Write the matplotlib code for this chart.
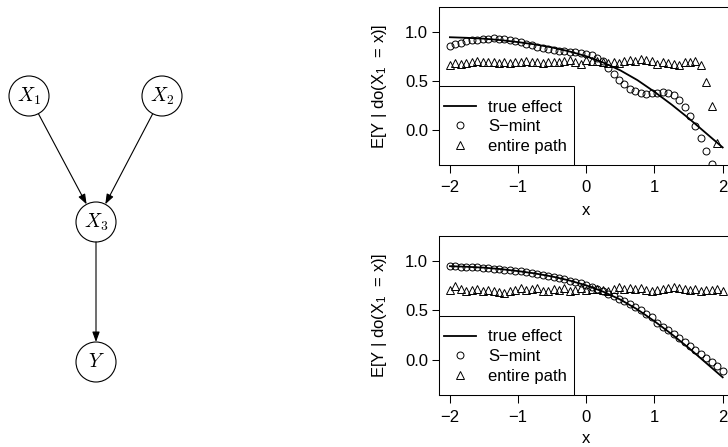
import numpy as np
import matplotlib
matplotlib.use("Agg")
import matplotlib.pyplot as plt
from matplotlib.lines import Line2D
from matplotlib.patches import Circle, FancyArrowPatch, Rectangle

plt.rcParams['font.family'] = ['Liberation Sans', 'DejaVu Sans']
plt.rcParams['mathtext.fontset'] = 'custom'
plt.rcParams['mathtext.rm'] = 'Liberation Sans'
plt.rcParams['mathtext.it'] = 'Liberation Sans'

# ---------------- data ----------------
x_grid = np.linspace(-2, 2, 51)

true_x = [-2.0, -1.75, -1.5, -1.25, -1.0, -0.75, -0.5, -0.25, 0.0,
          0.25, 0.5, 0.75, 1.0, 1.25, 1.5, 1.75, 2.0]
true_effect = [0.950, 0.944, 0.935, 0.920, 0.900, 0.876, 0.845, 0.805, 0.755,
               0.690, 0.610, 0.510, 0.390, 0.260, 0.120, -0.030, -0.180]

# top panel (visible points only)
smint_top = [0.864, 0.881, 0.895, 0.908, 0.918, 0.925, 0.932, 0.935, 0.939, 0.935,
             0.929, 0.922, 0.908, 0.898, 0.884, 0.871, 0.854, 0.840, 0.827, 0.817,
             0.810, 0.806, 0.800, 0.796, 0.790, 0.783, 0.763, 0.739, 0.705, 0.630,
             0.577, 0.516, 0.468, 0.424, 0.397, 0.380, 0.373, 0.380, 0.383, 0.390,
             0.380, 0.356, 0.305, 0.230, 0.146, 0.044, -0.085, -0.214, -0.350]
path_top = [0.67, 0.69, 0.68, 0.69, 0.70, 0.71, 0.70, 0.70, 0.70, 0.69,
            0.70, 0.69, 0.70, 0.70, 0.71, 0.70, 0.70, 0.69, 0.70, 0.70,
            0.70, 0.71, 0.72, 0.70, 0.68, 0.72, 0.71, 0.71, 0.70, 0.69,
            0.70, 0.69, 0.71, 0.72, 0.71, 0.73, 0.72, 0.71, 0.68, 0.70,
            0.69, 0.68, 0.67, 0.70, 0.70, 0.71, 0.67, 0.49, 0.24, -0.13]

# bottom panel
smint_bot = [0.950, 0.948, 0.946, 0.943, 0.940, 0.937, 0.933, 0.929, 0.925, 0.920,
             0.915, 0.909, 0.903, 0.897, 0.890, 0.882, 0.873, 0.864, 0.854, 0.843,
             0.831, 0.818, 0.804, 0.789, 0.774, 0.760, 0.740, 0.718, 0.695, 0.672,
             0.647, 0.620, 0.592, 0.563, 0.532, 0.500, 0.466, 0.431, 0.375, 0.335,
             0.300, 0.260, 0.220, 0.180, 0.140, 0.100, 0.060, 0.020, -0.020, -0.070,
             -0.120]
path_bot = [0.71, 0.75, 0.72, 0.70, 0.71, 0.72, 0.70, 0.71, 0.70, 0.69,
            0.68, 0.70, 0.71, 0.73, 0.71, 0.72, 0.73, 0.70, 0.70, 0.72,
            0.71, 0.73, 0.70, 0.71, 0.73, 0.71, 0.72, 0.72, 0.71, 0.70,
            0.72, 0.74, 0.72, 0.73, 0.72, 0.73, 0.71, 0.70, 0.71, 0.72,
            0.73, 0.74, 0.73, 0.72, 0.71, 0.72, 0.70, 0.71, 0.71, 0.72,
            0.70]

x_ticks = [-2, -1, 0, 1, 2]
y_ticks = [0.0, 0.5, 1.0]
legend_labels = ["true effect", "S\u2212mint", "entire path"]
ylabel = r"E[Y | do(X$_{\mathrm{1}}$  = x)]"

# DAG nodes (pixel layout)
nodes = {"X1": (29, 96), "X2": (162, 96), "X3": (96, 222), "Y": (96, 362)}
node_labels = {"X1": r"$X_1$", "X2": r"$X_2$", "X3": r"$X_3$", "Y": r"$Y$"}
edges = [("X1", "X3"), ("X2", "X3"), ("X3", "Y")]

# ---------------- figure ----------------
W, H = 728, 447
fig = plt.figure(figsize=(W / 100, H / 100), dpi=100)

# DAG drawn in pixel coords
axd = fig.add_axes([0, 0, 1, 1])
axd.set_xlim(0, W)
axd.set_ylim(H, 0)
axd.axis('off')
R = 20
for k, (cx, cy) in nodes.items():
    axd.add_patch(Circle((cx, cy), R, fill=False, ec='black', lw=0.8))
    axd.text(cx, cy, node_labels[k], ha='center', va='center', fontsize=14,
             math_fontfamily='cm')
for a, b in edges:
    (x0, y0), (x1, y1) = nodes[a], nodes[b]
    d = np.hypot(x1 - x0, y1 - y0)
    ux, uy = (x1 - x0) / d, (y1 - y0) / d
    arr = FancyArrowPatch((x0 + ux * R, y0 + uy * R), (x1 - ux * R, y1 - uy * R),
                          arrowstyle='-|>,head_length=0.6,head_width=0.22',
                          mutation_scale=10, color='black', lw=0.8,
                          shrinkA=0, shrinkB=0)
    axd.add_patch(arr)

MS_O, MS_T = 5.0, 5.6

def panel(rect, smint, path, xlab_y, box_top):
    ax = fig.add_axes(rect)
    ax.plot(true_x, true_effect, color='black', lw=1.3, zorder=3)
    ax.plot(x_grid[:len(smint)], smint, ls='none', marker='o', ms=MS_O,
            mfc='none', mec='black', mew=0.7, zorder=3)
    ax.plot(x_grid[:len(path)], path, ls='none', marker='^', ms=MS_T,
            mfc='none', mec='black', mew=0.7, zorder=3)
    ax.set_xlim(-2.16, 2.16)
    ax.set_ylim(-0.36, 1.26)
    ax.set_xticks(x_ticks)
    ax.set_yticks(y_ticks)
    ax.set_yticklabels([f"{v:.1f}" for v in y_ticks])
    ax.tick_params(direction='out', length=6, width=0.75, labelsize=12,
                   pad=5)
    ax.tick_params(axis='y', length=5, pad=3)
    for s in ax.spines.values():
        s.set_linewidth(0.75)
    ax.set_xlabel("x", fontsize=12)
    ax.xaxis.set_label_coords(0.5, xlab_y)
    ax.set_ylabel(ylabel, fontsize=12)
    ax.yaxis.set_label_coords(-0.17, 0.5)
    # legend frame (R style box, bottom-left)
    box_w = 0.458
    ax.add_patch(Rectangle((0, 0), box_w, box_top, transform=ax.transAxes,
                           facecolor='white', edgecolor='black', lw=0.75,
                           zorder=4, clip_on=False))
    handles = [Line2D([], [], color='black', lw=1.3),
               Line2D([], [], ls='none', marker='o', ms=MS_O, mfc='none',
                      mec='black', mew=0.7),
               Line2D([], [], ls='none', marker='^', ms=MS_T, mfc='none',
                      mec='black', mew=0.7)]
    leg = ax.legend(handles, legend_labels, loc='center left',
                    bbox_to_anchor=(0, box_top / 2 - 0.008), borderaxespad=0,
                    fontsize=12, frameon=False, handlelength=1.9,
                    handletextpad=0.75, borderpad=0.3, labelspacing=0.28)
    leg.set_zorder(5)
    return ax

left = 439 / W
width = (733.6 - 439) / W
panel([left, 1 - 165 / H, width, (165 - 7) / H], smint_top, path_top, -0.24,
      (165 - 86) / 158)
panel([left, 1 - 395 / H, width, (395 - 235.7) / H], smint_bot, path_bot, -0.226,
      (395 - 315.7) / 159.3)

fig.savefig("out.png", dpi=100)
